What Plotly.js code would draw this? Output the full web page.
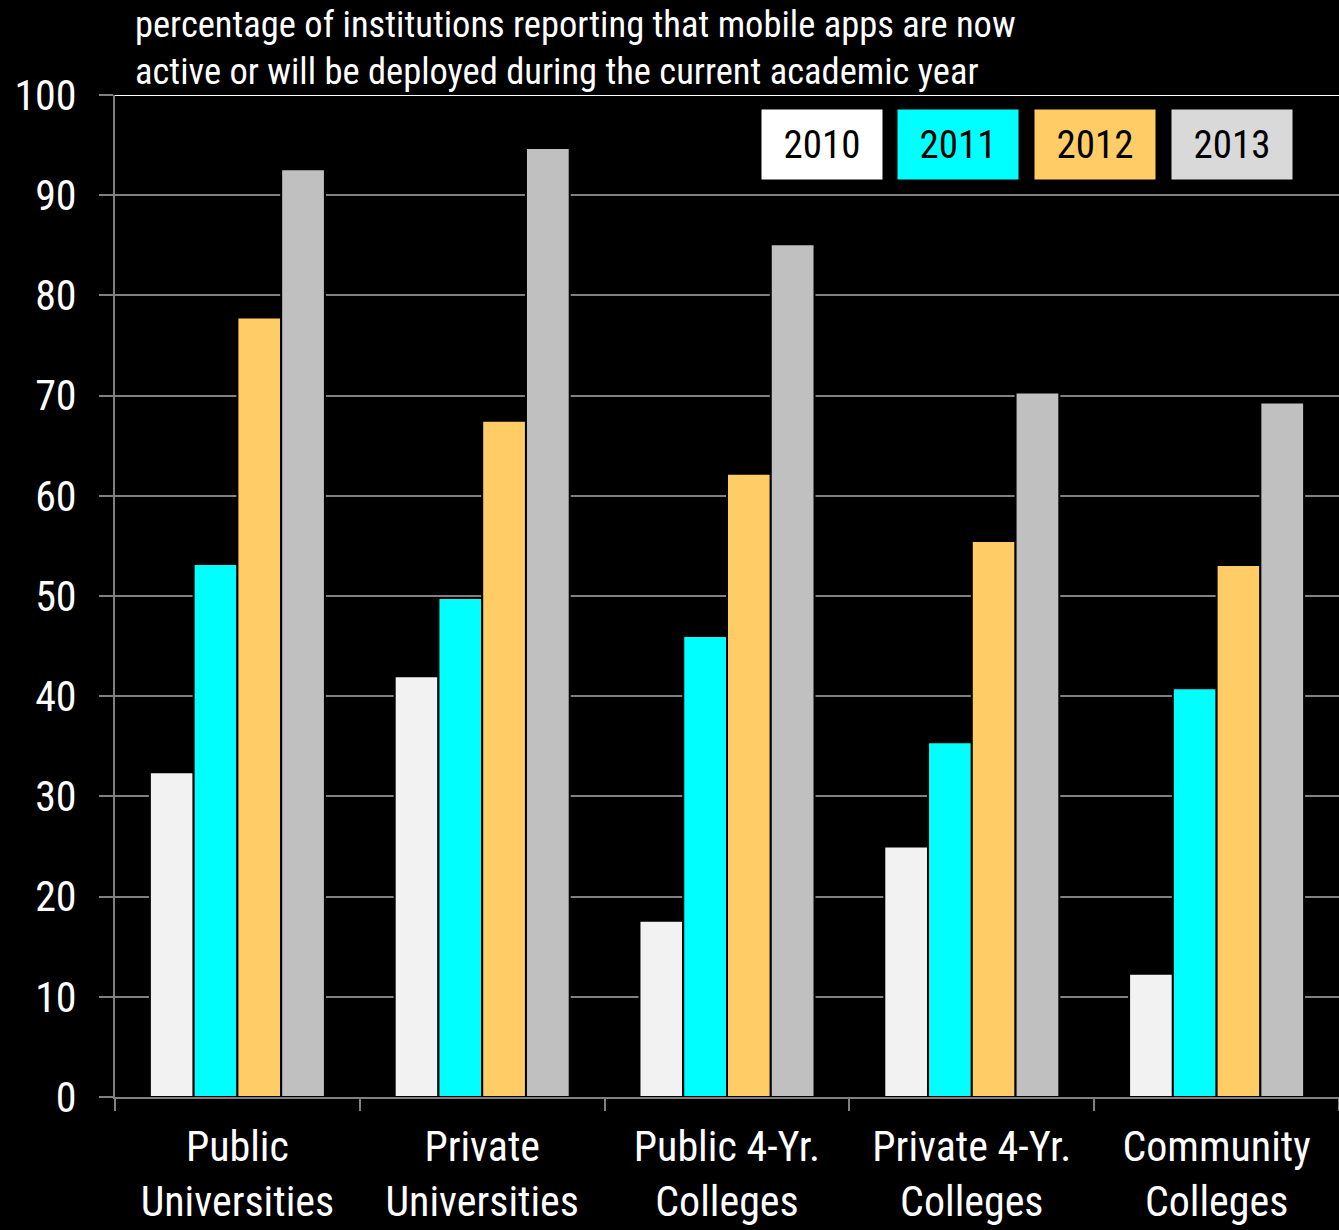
<!DOCTYPE html>
<html>
<head>
<meta charset="utf-8">
<script src="https://cdn.plot.ly/plotly-3.0.1.min.js"></script>
<style>
html,body{margin:0;padding:0;background:#000;}
#chart{width:1339px;height:1230px;}
</style>
</head>
<body>
<div id="chart"></div>
<script>
const categories = ["Public<br>Universities", "Private<br>Universities", "Public 4-Yr.<br>Colleges", "Private 4-Yr.<br>Colleges", "Community<br>Colleges"];
const years = ["2010", "2011", "2012", "2013"];
const v2010 = [32.4, 42.0, 17.6, 25.0, 12.3];
const v2011 = [53.2, 49.8, 46.0, 35.4, 40.8];
const v2012 = [77.8, 67.5, 62.2, 55.5, 53.1];
const v2013 = [92.6, 94.7, 85.1, 70.3, 69.3];
const seriesValues = [v2010, v2011, v2012, v2013];
const barColors = ["#F2F2F2", "#00FFFF", "#FFCC66", "#C0C0C0"];
const legendColors = ["#FFFFFF", "#00FFFF", "#FFCC66", "#D9D9D9"];
const yTicks = [0, 10, 20, 30, 40, 50, 60, 70, 80, 90, 100];
const titleText = "percentage of institutions reporting that mobile apps are now<br>active or will be deployed during the current academic year";

const FONT = "'Roboto Condensed', 'Liberation Sans Narrow', sans-serif";

const traces = years.map((yr, i) => ({
  type: "bar",
  name: yr,
  x: categories,
  y: seriesValues[i],
  marker: {color: barColors[i], line: {color: "#000000", width: 2}},
  hoverinfo: "y+name"
}));

// legend boxes drawn as annotations
const legendX = [822, 958, 1095, 1232];
const annotations = years.map((yr, i) => ({
  xref: "paper", yref: "paper",
  x: (legendX[i] - 115) / 1224,
  y: 1 - (144.5 - 95) / 1002,
  xanchor: "center", yanchor: "middle",
  text: yr,
  showarrow: false,
  bgcolor: legendColors[i],
  width: 120, height: 69, borderpad: 0,
  font: {family: FONT, size: 39, color: "#000000"}
}));

const layout = {
  width: 1339, height: 1230,
  paper_bgcolor: "#000000",
  plot_bgcolor: "#000000",
  margin: {l: 115, r: 0, t: 95, b: 133},
  showlegend: false,
  barmode: "group",
  bargap: 0.285,
  bargroupgap: 0,
  font: {family: FONT, color: "#FFFFFF"},
  title: {
    text: titleText,
    x: 135 / 1339, xanchor: "left", xref: "container",
    y: 1 - 37 / 1230, yanchor: "top", yref: "container",
    font: {family: FONT, size: 36.5, color: "#FFFFFF"}
  },
  xaxis: {
    type: "category",
    tickson: "boundaries",
    ticks: "outside", ticklen: 12, tickwidth: 2, tickcolor: "#808080",
    showline: true, linecolor: "#808080", linewidth: 2,
    showgrid: false,
    tickfont: {family: FONT, size: 42, color: "#FFFFFF"},
    ticklabelstandoff: 12
  },
  yaxis: {
    range: [0, 100],
    tickvals: yTicks,
    ticktext: yTicks.map(String),
    ticks: "outside", ticklen: 14, tickwidth: 2, tickcolor: "#808080",
    showline: true, linecolor: "#808080", linewidth: 2,
    showgrid: true, gridcolor: "#808080", gridwidth: 2,
    zeroline: false,
    tickfont: {family: FONT, size: 42, color: "#FFFFFF"},
    ticklabelstandoff: 14
  },
  shapes: [{
    type: "line", xref: "paper", yref: "y",
    x0: 0, x1: 1, y0: 100, y1: 100,
    line: {color: "#FFFFFF", width: 2}
  }],
  annotations: annotations
};

Plotly.newPlot("chart", traces, layout, {displayModeBar: false, staticPlot: true});
</script>
</body>
</html>
